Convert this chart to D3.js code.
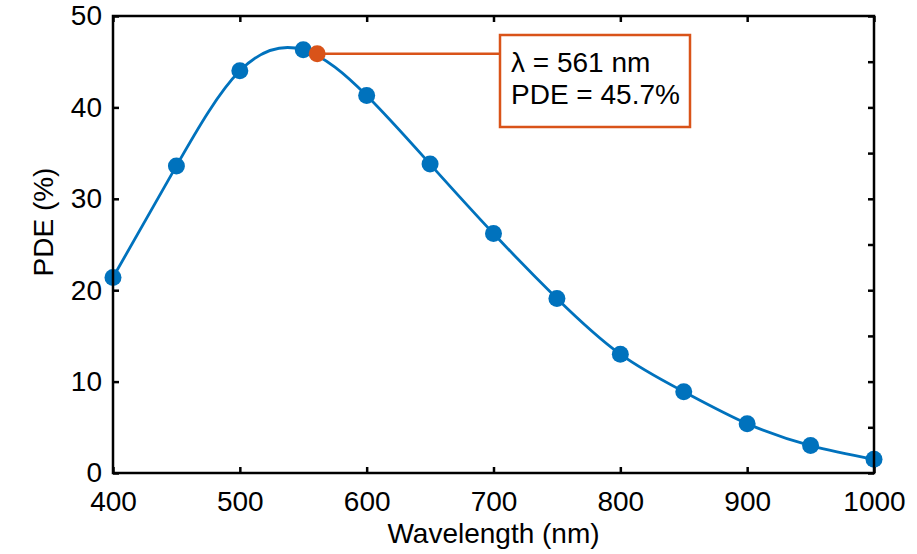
<!DOCTYPE html>
<html>
<head>
<meta charset="utf-8">
<script src="https://cdn.jsdelivr.net/npm/d3@7"></script>
<style>
  body { margin: 0; background: #fff; }
  svg text { font-family: "Liberation Sans", Arial, sans-serif; fill: #000; }
</style>
</head>
<body>
<div id="chart"></div>
<script>
// measured PDE curve
const wavelengths = [400, 450, 500, 550, 600, 650, 700, 750, 800, 850, 900, 950, 1000];
const pde = [21.4, 33.6, 44.0, 46.3, 41.3, 33.8, 26.2, 19.1, 13.0, 8.9, 5.4, 3.0, 1.5];

const xTicks = [400, 500, 600, 700, 800, 900, 1000];
const yTicks = [0, 10, 20, 30, 40, 50];
const yTicksRight = [0, 5, 10, 15, 20, 25, 30, 35, 40, 45, 50];

// highlighted point
const peakLambda = 561;
const peakPde = 45.7;
const noteLines = ["λ = " + peakLambda + " nm", "PDE = " + peakPde + "%"];

const W = 917, H = 554;
const m = {left: 113, right: 43, top: 16, bottom: 81};
const iw = W - m.left - m.right, ih = H - m.top - m.bottom;

const blue = "#0072BD", orange = "#D95319";
const fs = "28px";

const svg = d3.select("#chart").append("svg")
    .attr("width", W)
    .attr("height", H);

const g = svg.append("g").attr("transform", `translate(${m.left},${m.top})`);

const x = d3.scaleLinear().domain([400, 1000]).range([0, iw]);
const y = d3.scaleLinear().domain([0, 50]).range([ih, 0]);

// curve (spline through the points)
const line = d3.line()
    .x((d, i) => x(wavelengths[i]))
    .y(d => y(d))
    .curve(d3.curveNatural);

g.append("path")
    .datum(pde)
    .attr("fill", "none")
    .attr("stroke", blue)
    .attr("stroke-width", 2.8)
    .attr("d", line);

g.selectAll("circle.pt")
    .data(pde)
    .enter().append("circle")
    .attr("class", "pt")
    .attr("cx", (d, i) => x(wavelengths[i]))
    .attr("cy", d => y(d))
    .attr("r", 8.5)
    .attr("fill", blue);

// axes, ticks pointing in
function styleAxis(sel) {
    sel.select(".domain").remove();
    sel.selectAll(".tick line").attr("stroke", "#000").attr("stroke-width", 2.5);
    sel.selectAll(".tick text").style("font-size", fs).attr("font-family", null);
}

g.append("g")
    .attr("transform", `translate(0,${ih})`)
    .call(d3.axisBottom(x).tickValues(xTicks).tickFormat(d3.format("d")).tickSize(-6).tickPadding(18))
    .call(styleAxis);

g.append("g")
    .call(d3.axisLeft(y).tickValues(yTicks).tickSize(-6).tickPadding(11))
    .call(styleAxis);

g.append("g")
    .call(d3.axisTop(x).tickValues(xTicks).tickSize(-6).tickFormat(""))
    .call(styleAxis);

g.append("g")
    .attr("transform", `translate(${iw},0)`)
    .call(d3.axisRight(y).tickValues(yTicksRight).tickSize(-6).tickFormat(""))
    .call(styleAxis);

g.append("rect")
    .attr("width", iw)
    .attr("height", ih)
    .attr("fill", "none")
    .attr("stroke", "#000")
    .attr("stroke-width", 2.5);

// annotation
const boxX = 500 - m.left, boxY = 35 - m.top, boxW = 190, boxH = 92;

g.append("line")
    .attr("x1", x(peakLambda))
    .attr("x2", boxX)
    .attr("y1", y(peakPde) - 1.5)
    .attr("y2", y(peakPde) - 1.5)
    .attr("stroke", orange)
    .attr("stroke-width", 2.5);

g.append("circle")
    .attr("cx", x(peakLambda))
    .attr("cy", y(peakPde) - 1.5)
    .attr("r", 8.5)
    .attr("fill", orange);

g.append("rect")
    .attr("x", boxX)
    .attr("y", boxY)
    .attr("width", boxW)
    .attr("height", boxH)
    .attr("fill", "#fff")
    .attr("stroke", orange)
    .attr("stroke-width", 2.5);

g.selectAll("text.note")
    .data(noteLines)
    .enter().append("text")
    .attr("class", "note")
    .attr("x", boxX + 11)
    .attr("y", (d, i) => boxY + 37 + i * 32)
    .style("font-size", fs)
    .text(d => d);

// axis titles
svg.append("text")
    .attr("x", m.left + iw / 2)
    .attr("y", 543)
    .attr("text-anchor", "middle")
    .style("font-size", fs)
    .text("Wavelength (nm)");

svg.append("text")
    .attr("transform", "translate(53,222) rotate(-90)")
    .attr("text-anchor", "middle")
    .style("font-size", fs)
    .text("PDE (%)");
</script>
</body>
</html>
